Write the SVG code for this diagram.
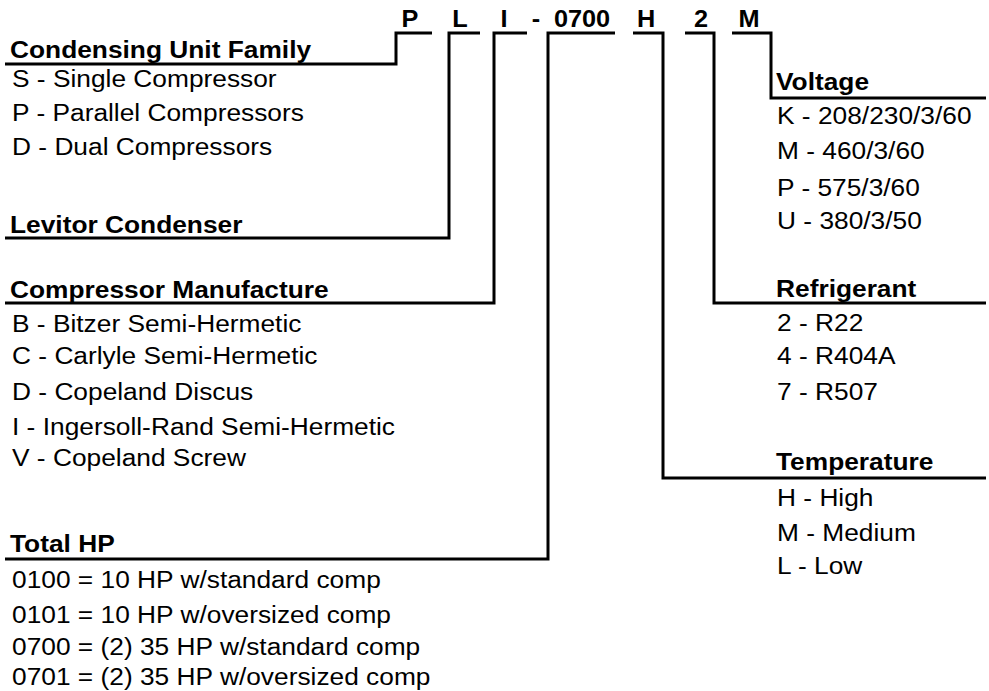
<svg xmlns="http://www.w3.org/2000/svg" width="989" height="691" viewBox="0 0 989 691">
<style>
.t{font-family:"Liberation Sans",Arial,sans-serif;font-size:23.5px;fill:#000}
.b{font-family:"Liberation Sans",Arial,sans-serif;font-size:23.5px;font-weight:bold;fill:#000}
.c{font-family:"Liberation Sans",Arial,sans-serif;font-size:23px;font-weight:bold;fill:#000;text-anchor:middle}
.ln{fill:none;stroke:#000;stroke-width:3;stroke-linejoin:miter;stroke-linecap:butt}
</style>
<rect width="989" height="691" fill="#fff"/>
<g id="code">
<text class="c" transform="matrix(1.1 0 0 1 410 27)">P</text>
<text class="c" transform="matrix(1.1 0 0 1 460 27)">L</text>
<text class="c" transform="matrix(1.1 0 0 1 504 27)">I</text>
<text class="c" transform="matrix(1.1 0 0 1 536 27)">-</text>
<text class="c" transform="matrix(1.1 0 0 1 582 27)">0700</text>
<text class="c" transform="matrix(1.1 0 0 1 646 27)">H</text>
<text class="c" transform="matrix(1.1 0 0 1 701 27)">2</text>
<text class="c" transform="matrix(1.1 0 0 1 749 27)">M</text>
</g>
<g id="connectors">
<path class="ln" d="M5,64 H396 V33 H432"/>
<path class="ln" d="M5,238 H449 V33 H480"/>
<path class="ln" d="M5,303 H494 V33 H527"/>
<path class="ln" d="M5,559 H548 V33 H615"/>
<path class="ln" d="M633,33 H663 V478 H986"/>
<path class="ln" d="M685,33 H714 V303 H986"/>
<path class="ln" d="M732,33 H771 V98 H986"/>
</g>
<g id="family">
<text class="b" transform="matrix(1.12 0 0 1 10 58)">Condensing Unit Family</text>
<text class="t" transform="matrix(1.12 0 0 1 12 87)">S - Single Compressor</text>
<text class="t" transform="matrix(1.12 0 0 1 12 121)">P - Parallel Compressors</text>
<text class="t" transform="matrix(1.12 0 0 1 12 155)">D - Dual Compressors</text>
</g>
<g id="levitor">
<text class="b" transform="matrix(1.12 0 0 1 10 233)">Levitor Condenser</text>
</g>
<g id="manufacture">
<text class="b" transform="matrix(1.12 0 0 1 10 298)">Compressor Manufacture</text>
<text class="t" transform="matrix(1.12 0 0 1 12 332)">B - Bitzer Semi-Hermetic</text>
<text class="t" transform="matrix(1.12 0 0 1 12 364)">C - Carlyle Semi-Hermetic</text>
<text class="t" transform="matrix(1.12 0 0 1 12 400)">D - Copeland Discus</text>
<text class="t" transform="matrix(1.12 0 0 1 12 435)">I - Ingersoll-Rand Semi-Hermetic</text>
<text class="t" transform="matrix(1.12 0 0 1 12 466)">V - Copeland Screw</text>
</g>
<g id="totalhp">
<text class="b" transform="matrix(1.12 0 0 1 10 552)">Total HP</text>
<text class="t" transform="matrix(1.12 0 0 1 12 588)">0100 = 10 HP w/standard comp</text>
<text class="t" transform="matrix(1.12 0 0 1 12 623)">0101 = 10 HP w/oversized comp</text>
<text class="t" transform="matrix(1.12 0 0 1 12 655)">0700 = (2) 35 HP w/standard comp</text>
<text class="t" transform="matrix(1.12 0 0 1 12 685)">0701 = (2) 35 HP w/oversized comp</text>
</g>
<g id="voltage">
<text class="b" transform="matrix(1.12 0 0 1 776 90)">Voltage</text>
<text class="t" transform="matrix(1.12 0 0 1 777 124)">K - 208/230/3/60</text>
<text class="t" transform="matrix(1.12 0 0 1 777 159)">M - 460/3/60</text>
<text class="t" transform="matrix(1.12 0 0 1 777 196)">P - 575/3/60</text>
<text class="t" transform="matrix(1.12 0 0 1 777 229)">U - 380/3/50</text>
</g>
<g id="refrigerant">
<text class="b" transform="matrix(1.12 0 0 1 776 297)">Refrigerant</text>
<text class="t" transform="matrix(1.12 0 0 1 777 331)">2 - R22</text>
<text class="t" transform="matrix(1.12 0 0 1 777 364)">4 - R404A</text>
<text class="t" transform="matrix(1.12 0 0 1 777 400)">7 - R507</text>
</g>
<g id="temperature">
<text class="b" transform="matrix(1.12 0 0 1 776 470)">Temperature</text>
<text class="t" transform="matrix(1.12 0 0 1 777 506)">H - High</text>
<text class="t" transform="matrix(1.12 0 0 1 777 541)">M - Medium</text>
<text class="t" transform="matrix(1.12 0 0 1 777 574)">L - Low</text>
</g>
</svg>
